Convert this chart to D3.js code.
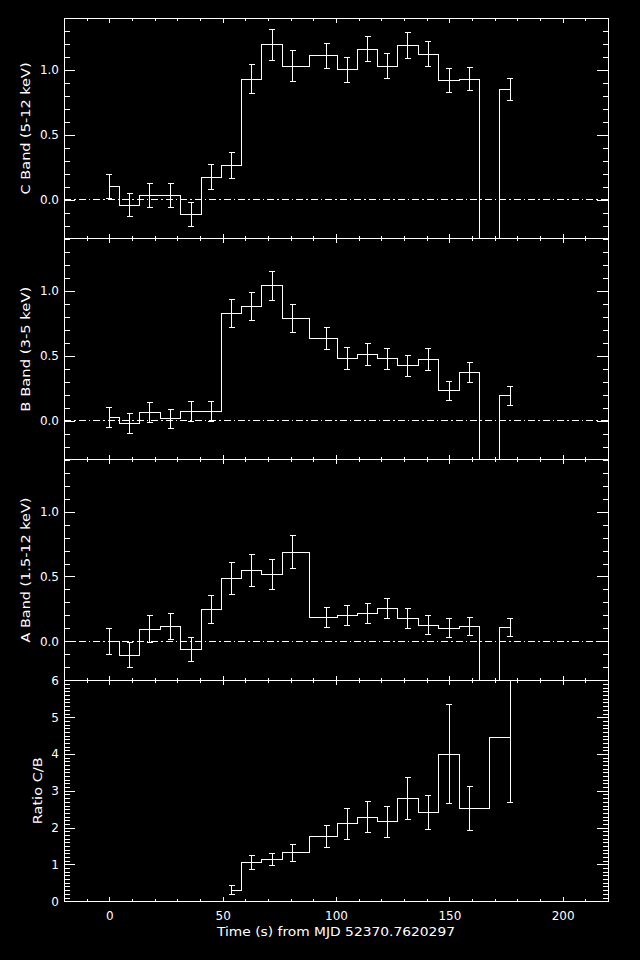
<!DOCTYPE html>
<html><head><meta charset="utf-8">
<script src="https://cdn.jsdelivr.net/npm/d3@7"></script>
<style>
body{margin:0;background:#000}
svg{display:block;background:#000}
text{font-family:"DejaVu Sans",sans-serif;fill:#fff}
line,path,rect{shape-rendering:crispEdges}
</style>
</head><body><svg id="c" width="640" height="960"></svg>
<script>
// ---- data ----
const times = [0, 8.9, 17.9, 27.0, 36.1, 44.9, 53.9, 62.8, 71.9, 80.9, 95.9, 105.0, 113.9, 122.7, 131.7, 140.8, 149.9, 158.9, 167.9, 176.8];
const cBand = [0.105, -0.04, 0.03, 0.03, -0.115, 0.175, 0.262, 0.93, 1.195, 1.03, 1.11, 1.0, 1.16, 1.03, 1.19, 1.12, 0.92, 0.93, -1.5, 0.85];
const cErr  = [0.093, 0.09, 0.092, 0.092, 0.092, 0.096, 0.1, 0.115, 0.12, 0.12, 0.097, 0.096, 0.096, 0.096, 0.1, 0.096, 0.092, 0.092, 0.3, 0.088];
const bBand = [0.023, -0.023, 0.061, 0.015, 0.069, 0.069, 0.823, 0.877, 1.04, 0.785, 0.631, 0.477, 0.508, 0.477, 0.423, 0.469, 0.231, 0.369, -1.5, 0.192];
const bErr  = [0.077, 0.077, 0.077, 0.073, 0.077, 0.077, 0.108, 0.108, 0.112, 0.108, 0.085, 0.085, 0.085, 0.081, 0.081, 0.085, 0.073, 0.077, 0.3, 0.073];
const aBand = [0.0, -0.108, 0.092, 0.115, -0.062, 0.246, 0.485, 0.546, 0.515, 0.685, 0.185, 0.2, 0.215, 0.254, 0.177, 0.123, 0.1, 0.115, -1.5, 0.108];
const aErr  = [0.1, 0.096, 0.104, 0.1, 0.096, 0.108, 0.12, 0.12, 0.115, 0.127, 0.077, 0.077, 0.08, 0.08, 0.077, 0.073, 0.073, 0.07, 0.3, 0.07];
const ratioTimes = [53.9, 62.8, 71.9, 80.9, 95.9, 105.0, 113.9, 122.7, 131.7, 140.8, 149.9, 158.9, 176.8];
const ratio      = [0.3, 1.06, 1.14, 1.31, 1.76, 2.1, 2.28, 2.16, 2.8, 2.4, 4.0, 2.53, 4.45];
const ratioErr   = [0.12, 0.19, 0.165, 0.23, 0.29, 0.41, 0.42, 0.42, 0.57, 0.46, 1.35, 0.6, 1.77];

const xDomain = [-20, 220];
const xMajorTicks = [0, 50, 100, 150, 200];
const bandDomain = [-0.3, 1.4];
const bandTicks = [0.0, 0.5, 1.0];
const bandTickLabels = ["0.0", "0.5", "1.0"];
const ratioDomain = [0, 6];
const ratioTicks = [0, 1, 2, 3, 4, 5, 6];
const ratioTickLabels = ["0", "1", "2", "3", "4", "5", "6"];
const panelTitles = ["C Band (5-12 keV)", "B Band (3-5 keV)", "A Band (1.5-12 keV)", "Ratio C/B"];
const xTitle = "Time (s) from MJD 52370.7620297";

// ---- layout ----
const svg = d3.select("#c");
const L = 64, R = 608, TOP = 18, PH = 220.8;
const x = d3.scaleLinear().domain(xDomain).range([L, R]);
const xMinor = d3.range(-20, 221, 10).filter(v => v % 50 !== 0);

function zip(t, v, e) { return t.map((tt, i) => ({t: tt, v: v[i], e: e[i]})); }

const panels = [
  {data: zip(times, cBand, cErr), dom: bandDomain, ticks: bandTicks, labels: bandTickLabels, minorStep: 0.1, zero: true, titleX: 29.5, tl: 132},
  {data: zip(times, bBand, bErr), dom: bandDomain, ticks: bandTicks, labels: bandTickLabels, minorStep: 0.1, zero: true, titleX: 29.5, tl: 125},
  {data: zip(times, aBand, aErr), dom: bandDomain, ticks: bandTicks, labels: bandTickLabels, minorStep: 0.1, zero: true, titleX: 29.5, tl: 145},
  {data: zip(ratioTimes, ratio, ratioErr), dom: ratioDomain, ticks: ratioTicks, labels: ratioTickLabels, minorStep: 0.1, zero: false, titleX: 41.5, tl: 67}
];

const defs = svg.append("defs");
const SW = 1;

panels.forEach((p, i) => {
  const top = TOP + i * PH, bot = top + PH;
  const y = d3.scaleLinear().domain(p.dom).range([bot, top]);
  const g = svg.append("g");
  const cid = "clip" + i;
  defs.append("clipPath").attr("id", cid).append("rect")
    .attr("x", L).attr("y", top).attr("width", R - L).attr("height", PH);
  const dg = g.append("g").attr("clip-path", `url(#${cid})`);

  if (p.zero) {
    dg.append("line").attr("x1", x(xDomain[0])).attr("x2", x(xDomain[1]))
      .attr("y1", y(0)).attr("y2", y(0))
      .attr("stroke", "#fff").attr("stroke-width", SW).attr("stroke-dasharray", "7,3,1.5,3");
  }
  const line = d3.line().x(d => x(d.t)).y(d => y(d.v)).curve(d3.curveStep);
  dg.append("path").datum(p.data).attr("d", line)
    .attr("fill", "none").attr("stroke", "#fff").attr("stroke-width", SW);

  const eb = dg.selectAll("g.eb").data(p.data).join("g").attr("class", "eb")
    .attr("stroke", "#fff").attr("stroke-width", SW);
  eb.append("line").attr("x1", d => x(d.t)).attr("x2", d => x(d.t))
    .attr("y1", d => y(d.v - d.e)).attr("y2", d => y(d.v + d.e));
  eb.append("line").attr("x1", d => x(d.t) - 3).attr("x2", d => x(d.t) + 3)
    .attr("y1", d => y(d.v - d.e)).attr("y2", d => y(d.v - d.e));
  eb.append("line").attr("x1", d => x(d.t) - 3).attr("x2", d => x(d.t) + 3)
    .attr("y1", d => y(d.v + d.e)).attr("y2", d => y(d.v + d.e));

  // y minor ticks
  const n0 = Math.ceil(p.dom[0] / p.minorStep - 1e-6), n1 = Math.floor(p.dom[1] / p.minorStep + 1e-6);
  const yMinor = d3.range(n0, n1 + 1).map(k => +(k * p.minorStep).toFixed(3))
    .filter(v => !p.ticks.some(t => Math.abs(t - v) < 1e-6));

  const styleAxis = sel => {
    sel.select(".domain").remove();
    sel.selectAll("line").attr("stroke", "#fff").attr("stroke-width", SW);
    sel.selectAll("text").attr("fill", "#fff").style("font-family", '"DejaVu Sans",sans-serif').style("font-size", "12px");
  };

  g.append("g").attr("transform", `translate(${L},0)`)
    .call(d3.axisLeft(y).tickValues(p.ticks).tickFormat((d, j) => p.labels[j]).tickSizeInner(-11).tickSizeOuter(0).tickPadding(5))
    .call(styleAxis);
  g.append("g").attr("transform", `translate(${L},0)`)
    .call(d3.axisLeft(y).tickValues(yMinor).tickFormat("").tickSizeInner(-5.5).tickSizeOuter(0))
    .call(styleAxis);
  g.append("g").attr("transform", `translate(${R},0)`)
    .call(d3.axisRight(y).tickValues(p.ticks).tickFormat("").tickSizeInner(-11).tickSizeOuter(0))
    .call(styleAxis);
  g.append("g").attr("transform", `translate(${R},0)`)
    .call(d3.axisRight(y).tickValues(yMinor).tickFormat("").tickSizeInner(-5.5).tickSizeOuter(0))
    .call(styleAxis);

  // x ticks top and bottom
  g.append("g").attr("transform", `translate(0,${top})`)
    .call(d3.axisTop(x).tickValues(xMajorTicks).tickFormat("").tickSizeInner(-4.5).tickSizeOuter(0))
    .call(styleAxis);
  g.append("g").attr("transform", `translate(0,${top})`)
    .call(d3.axisTop(x).tickValues(xMinor).tickFormat("").tickSizeInner(-2.5).tickSizeOuter(0))
    .call(styleAxis);
  const last = i === panels.length - 1;
  g.append("g").attr("transform", `translate(0,${bot})`)
    .call(d3.axisBottom(x).tickValues(xMajorTicks).tickFormat(last ? d3.format("d") : "").tickSizeInner(-4.5).tickSizeOuter(0).tickPadding(10))
    .call(styleAxis);
  g.append("g").attr("transform", `translate(0,${bot})`)
    .call(d3.axisBottom(x).tickValues(xMinor).tickFormat("").tickSizeInner(-2.5).tickSizeOuter(0))
    .call(styleAxis);

  // frame
  g.append("rect").attr("x", L).attr("y", top).attr("width", R - L).attr("height", PH)
    .attr("fill", "none").attr("stroke", "#fff").attr("stroke-width", SW);

  // title
  const cy = (top + bot) / 2;
  g.append("text").attr("transform", `translate(${p.titleX},${cy}) rotate(-90)`)
    .attr("text-anchor", "middle").style("font-size", "12.5px")
    .attr("textLength", p.tl).attr("lengthAdjust", "spacingAndGlyphs")
    .text(panelTitles[i]);
});

svg.append("text").attr("x", (L + R) / 2).attr("y", 936).attr("text-anchor", "middle")
  .style("font-size", "12.5px").attr("textLength", 238).attr("lengthAdjust", "spacingAndGlyphs")
  .text(xTitle);
</script>
</body></html>
